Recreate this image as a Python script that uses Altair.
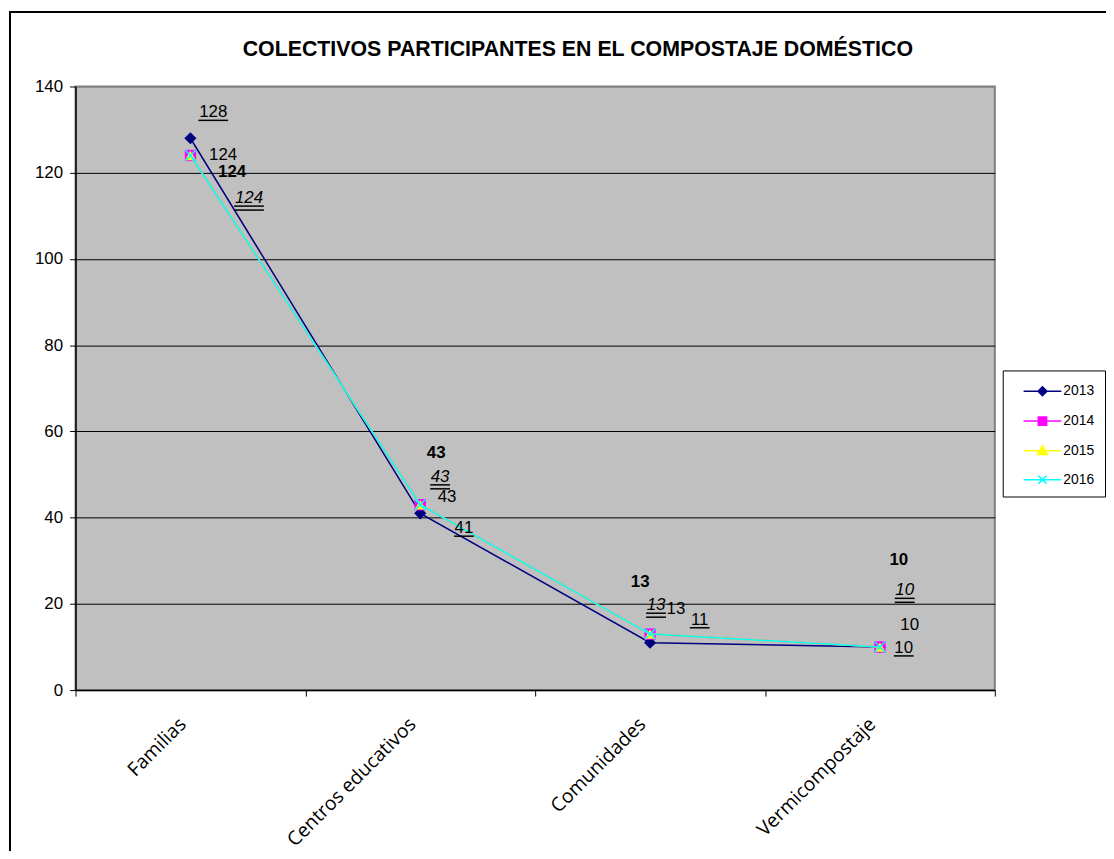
import altair as alt
import pandas as pd

# ---------------- data ----------------
categories = ["Familias", "Centros educativos", "Comunidades", "Vermicompostaje"]
series = ["2013", "2014", "2015", "2016"]
values_2013 = [128, 41, 11, 10]
values_2014 = [124, 43, 13, 10]
values_2015 = [124, 43, 13, 10]
values_2016 = [124, 43, 13, 10]
y_ticks = [0, 20, 40, 60, 80, 100, 120, 140]
title_text = "COLECTIVOS PARTICIPANTES EN EL COMPOSTAJE DOMÉSTICO"

series_values = {"2013": values_2013, "2014": values_2014,
                 "2015": values_2015, "2016": values_2016}

rows = []
for s in series:
    for c, v in zip(categories, series_values[s]):
        rows.append({"cat": c, "serie": s, "value": v})
df = pd.DataFrame(rows)

# ---------------- styles ----------------
colors = {"2013": "#000080", "2014": "#FF00FF", "2015": "#FFFF00", "2016": "#00FFFF"}
X_PATH = "M-1,-1L1,1M1,-1L-1,1"
markers = {
    "2013": dict(shape="diamond", filled=True, size=150),
    "2014": dict(shape="square", filled=True, size=130),
    "2015": dict(shape="triangle-up", filled=True, size=120),
    "2016": dict(shape=X_PATH, filled=False, size=110, strokeWidth=1.5),
}
legend_paths = [
    "M0,0H3.8M1.45,0L1.9,-0.45L2.35,0L1.9,0.45Z",
    "M0,0H3.8M1.48,-0.42H2.32V0.42H1.48Z",
    "M0,0H3.8M1.9,-0.5L2.4,0.38L1.4,0.38Z",
    "M0,0H3.8M1.5,-0.4L2.3,0.4M2.3,-0.4L1.5,0.4",
]
label_font = {"2013": {}, "2014": {}, "2015": {"fontWeight": "bold"},
              "2016": {"fontStyle": "italic"}}
underlines = {"2013": 1, "2014": 0, "2015": 0, "2016": 2}
# label placement offsets (pixels, relative to each point)
label_dx = {"2013": [23, 44, 50, 24], "2014": [33, 27, 26, 30],
            "2015": [42, 16, -10, 19], "2016": [59, 20, 6, 25]}
label_dy = {"2013": [-26, 15, -23, 1], "2014": [0, -8, -25, -22],
            "2015": [17, -52, -52, -88], "2016": [43, -28, -29, -57]}

FONT = "Liberation Sans"

x_enc = alt.X(
    "cat:N", sort=categories,
    scale=alt.Scale(type="band", domain=categories, paddingInner=0, paddingOuter=0),
    axis=alt.Axis(title=None, labelAngle=315, labelAlign="right", labelBaseline="middle",
                  tickBand="extent", tickSize=6, tickColor="black", domainColor="black",
                  domainWidth=1.5, labelFont="Open Sans", labelFontSize=19.5,
                  labelColor="black", labelPadding=25, labelOffset=-8, grid=False),
)
y_enc = alt.Y(
    "value:Q",
    scale=alt.Scale(domain=[0, 140], nice=False),
    axis=alt.Axis(title=None, values=y_ticks, grid=True,
                  gridColor={"condition": {"test": "datum.value === 140", "value": "#808080"},
                             "value": "black"},
                  gridWidth=1, tickSize=6, tickColor="black", domainColor="black",
                  domainWidth=1.5, labelFont=FONT, labelFontSize=17, labelColor="black",
                  labelPadding=7),
)

base = alt.Chart(df).encode(x=x_enc, y=y_enc)

layers = []

# outer frame (decoration)
frame = alt.Chart(pd.DataFrame({"k": [0]})).mark_rect(
    filled=False, stroke="black", strokeWidth=2
).encode(x=alt.value(-66), x2=alt.value(1400), y=alt.value(-75), y2=alt.value(1200))
layers.append(frame)

for s in series:
    sub = base.transform_filter(alt.datum.serie == s)
    layers.append(sub.mark_line(color=colors[s], strokeWidth=1.5))
    m = dict(markers[s])
    layers.append(sub.mark_point(color=colors[s], opacity=1, **m))

# invisible layer carrying the legend
leg = alt.Legend(title=None, orient="none", legendX=934, legendY=286,
                 strokeColor="black", fillColor="white", padding=10, rowPadding=11,
                 symbolSize=400, symbolStrokeWidth=1.5, symbolOpacity=1,
                 labelFont=FONT, labelFontSize=14, labelColor="black", labelOffset=29)
layers.append(
    base.mark_point(opacity=0, size=400, strokeWidth=1.5).encode(
        shape=alt.Shape("serie:N", scale=alt.Scale(domain=series, range=legend_paths), legend=leg),
        fill=alt.Fill("serie:N", scale=alt.Scale(domain=series, range=[colors[s] for s in series]), legend=leg),
        stroke=alt.Stroke("serie:N", scale=alt.Scale(domain=series, range=[colors[s] for s in series]), legend=leg),
    )
)

# data labels
for s in series:
    for i, c in enumerate(categories):
        v = series_values[s][i]
        dx, dy = label_dx[s][i], label_dy[s][i]
        pt = base.transform_filter((alt.datum.serie == s) & (alt.datum.cat == c))
        layers.append(pt.mark_text(dx=dx, dy=dy, font=FONT, fontSize=17, color="black",
                                   **label_font[s]).encode(text="value:Q"))
        for k in range(underlines[s]):
            layers.append(pt.mark_tick(orient="horizontal", color="black", opacity=1,
                                       size=10 * len(str(v)), thickness=1.5,
                                       xOffset=dx, yOffset=dy + 8 + 4 * k))

chart = alt.layer(*layers).properties(
    width=926, height=608,
    padding={"left": 68, "top": 76, "right": 112, "bottom": 159},
    autosize=alt.AutoSizeParams(type="none"),
    background="white",
    title=alt.Title(title_text, font=FONT, fontSize=21.5, fontWeight="bold", color="black",
                    anchor="middle", frame="group", dx=43, offset=-67, baseline="alphabetic"),
).configure_view(fill="#C0C0C0", stroke="#808080", strokeWidth=2)

chart.save("out.html", embed_options={"renderer": "svg", "actions": False})
